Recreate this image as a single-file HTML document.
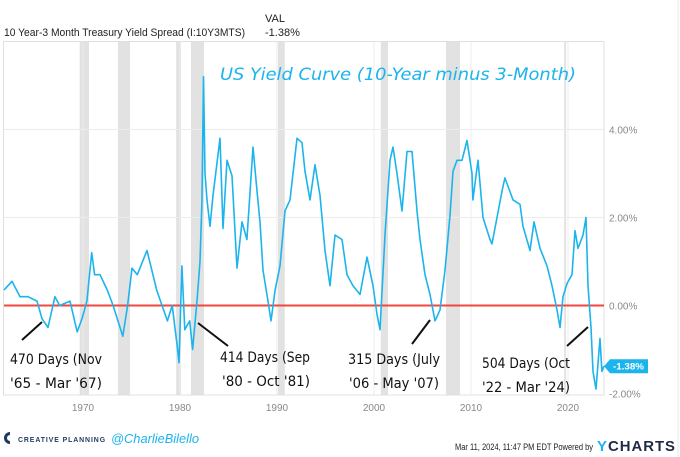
<!DOCTYPE html>
<html><head><meta charset="utf-8">
<style>
html,body{margin:0;padding:0;background:#fff;}
body{width:680px;height:457px;overflow:hidden;position:relative;font-family:"Liberation Sans",sans-serif;}
svg{position:absolute;left:0;top:0;}
</style></head>
<body>
<svg id="chart" width="680" height="457" viewBox="0 0 680 457">
  <line x1="678" y1="0" x2="678" y2="457" stroke="#e8e8e8" stroke-width="1"/>
  <text x="4" y="36" font-size="11" fill="#222" textLength="241" lengthAdjust="spacingAndGlyphs">10 Year-3 Month Treasury Yield Spread (I:10Y3MTS)</text>
  <text x="265" y="22" font-size="11" fill="#222">VAL</text>
  <text x="265" y="36" font-size="11" fill="#222">-1.38%</text>
  <g id="bands"></g>
  <g id="grid"></g>
  <rect x="3.5" y="41.5" width="600.5" height="353.5" fill="none" stroke="#e0e0e0" stroke-width="1"/>
  <line id="zeroline" x1="4" x2="604" stroke="#f0473e" stroke-width="2"/>
  <path id="series" fill="none" stroke="#1cb4ec" stroke-width="1.6" stroke-linejoin="round"/>
  <g id="yticks"></g>
  <g id="xticks"></g>
  <text x="220" y="80" font-size="17" fill="#1cb4ec" font-style="italic" font-family="'DejaVu Sans',sans-serif" textLength="356" lengthAdjust="spacingAndGlyphs">US Yield Curve (10-Year minus 3-Month)</text>
  <g stroke="#111" stroke-width="2">
    <line x1="22" y1="340" x2="42" y2="322"/>
    <line x1="198" y1="323" x2="228" y2="346"/>
    <line x1="412" y1="344" x2="430" y2="320"/>
    <line x1="567" y1="346" x2="588" y2="327"/>
  </g>
  <g font-size="14" fill="#111" font-family="'DejaVu Sans',sans-serif">
    <text x="10" y="364" textLength="92" lengthAdjust="spacingAndGlyphs">470 Days (Nov</text>
    <text x="10" y="388" textLength="92" lengthAdjust="spacingAndGlyphs">'65 - Mar '67)</text>
    <text x="220" y="362" textLength="90" lengthAdjust="spacingAndGlyphs">414 Days (Sep</text>
    <text x="222" y="386" textLength="88" lengthAdjust="spacingAndGlyphs">'80 - Oct '81)</text>
    <text x="348" y="364" textLength="92" lengthAdjust="spacingAndGlyphs">315 Days (July</text>
    <text x="349" y="388" textLength="90" lengthAdjust="spacingAndGlyphs">'06 - May '07)</text>
    <text x="482" y="368" textLength="88" lengthAdjust="spacingAndGlyphs">504 Days (Oct</text>
    <text x="482" y="392" textLength="88" lengthAdjust="spacingAndGlyphs">'22 - Mar '24)</text>
  </g>
  <g id="lastlabel">
    <polygon id="lastpoly" fill="#1cb4ec"/>
    <text id="lasttext" x="613" font-size="9.5" font-weight="bold" fill="#fff" textLength="31" lengthAdjust="spacingAndGlyphs">-1.38%</text>
  </g>
  <g>
    <path d="M10 432 a6 6 0 1 0 0 12 l0 -3 a3 3 0 1 1 0 -6 z" fill="#1f3a5f"/>
    <text x="18" y="442" font-size="7.5" font-weight="bold" fill="#1f3a5f" letter-spacing="1" textLength="88" lengthAdjust="spacingAndGlyphs">CREATIVE PLANNING</text>
    <text x="111" y="443" font-size="13" font-style="italic" fill="#1cb4ec" textLength="88" lengthAdjust="spacingAndGlyphs">@CharlieBilello</text>
    <text x="455" y="450" font-size="9" fill="#222" textLength="138" lengthAdjust="spacingAndGlyphs">Mar 11, 2024, 11:47 PM EDT Powered by</text>
    <text x="597" y="451" font-size="15" font-weight="bold" fill="#1f2a44" letter-spacing="1" textLength="79" lengthAdjust="spacingAndGlyphs"><tspan fill="#1cb4ec">Y</tspan>CHARTS</text>
  </g>
</svg>
<script>
const years = [1961.86,1962.68,1963.5,1964.33,1965.26,1965.77,1966.39,1967.1,1967.6,1968.66,1969.4,1969.9,1970.4,1970.9,1971.2,1971.75,1972.5,1973.1,1974.1,1974.6,1975.05,1975.6,1976.6,1977.6,1978.7,1979.2,1979.7,1979.9,1980.2,1980.5,1981.0,1981.3,1981.75,1982.06,1982.27,1982.42,1982.58,1982.78,1983.09,1983.4,1984.12,1984.43,1984.85,1985.36,1985.88,1986.39,1986.9,1987.53,1987.94,1988.25,1988.56,1989.07,1989.38,1989.8,1990.31,1990.82,1991.34,1992.06,1992.58,1992.89,1993.4,1993.92,1994.43,1994.95,1995.46,1995.98,1996.7,1997.22,1997.84,1998.56,1999.28,1999.9,2000.31,2000.62,2001.13,2001.65,2001.96,2002.37,2002.89,2003.4,2003.92,2004.43,2004.74,2005.26,2005.77,2006.29,2006.8,2007.32,2007.84,2008.14,2008.56,2009.07,2009.59,2010.1,2010.2,2010.72,2011.24,2011.96,2012.16,2013.2,2013.5,2014.33,2015.05,2015.36,2016.08,2016.49,2017.11,2017.84,2018.35,2018.87,2019.18,2019.48,2019.9,2020.41,2020.72,2021.03,2021.55,2021.86,2022.06,2022.37,2022.58,2022.89,2023.3,2023.5,2023.7];
const spread = [0.35,0.55,0.2,0.2,0.1,-0.3,-0.5,0.2,0.0,0.1,-0.6,-0.3,0.1,1.2,0.7,0.7,0.35,0.0,-0.7,0.0,0.85,0.7,1.25,0.35,-0.35,0.0,-0.9,-1.3,0.9,-0.55,-0.35,-1.0,0.1,1.0,2.4,5.2,3.0,2.4,1.8,2.5,3.8,1.75,3.3,2.95,0.85,1.9,1.5,3.6,2.6,1.9,0.8,0.1,-0.35,0.35,0.9,2.15,2.4,3.8,3.7,3.05,2.4,3.2,2.5,1.25,0.45,1.6,1.5,0.7,0.45,0.25,1.1,0.45,-0.2,-0.55,1.6,3.3,3.6,3.0,2.15,3.5,3.5,2.15,1.5,0.7,0.25,-0.35,-0.1,0.8,2.05,3.05,3.3,3.3,3.75,3.0,2.4,3.3,2.0,1.5,1.4,2.6,2.9,2.4,2.3,1.8,1.25,1.9,1.3,0.9,0.45,-0.1,-0.5,0.2,0.5,0.7,1.7,1.3,1.6,2.0,0.45,-0.5,-1.5,-1.9,-0.75,-1.5,-1.38];
const recessionStart = [1969.66,1973.6,1979.6,1981.13,1990.1,2000.7,2007.42,2019.6];
const recessionEnd = [1970.62,1974.85,1980.1,1982.47,1990.8,2001.44,2008.87,2019.8];
const yTickValues = [4,2,0,-2];
const yTickLabels = ["4.00%","2.00%","0.00%","-2.00%"];
const xTickYears = [1970,1980,1990,2000,2010,2020];
const lastValue = -1.38;

const NS = "http://www.w3.org/2000/svg";
function xScale(t){ return 83 + (t - 1970) * 9.7; }
function yScale(v){ return 305.5 - v * 44; }
function mk(tag, attrs, parent){
  const e = document.createElementNS(NS, tag);
  for (const k in attrs) e.setAttribute(k, attrs[k]);
  parent.appendChild(e);
  return e;
}
const bands = document.getElementById('bands');
for (let i = 0; i < recessionStart.length; i++){
  const r = mk('rect', {x: xScale(recessionStart[i]), y: 42, width: xScale(recessionEnd[i]) - xScale(recessionStart[i]), height: 353, fill: '#e2e2e2'}, bands);
  
  
}
const grid = document.getElementById('grid');
xTickYears.forEach(function(y){
  const l = mk('line', {x1: xScale(y), x2: xScale(y), y1: 42, y2: 395, stroke: '#ececec', 'stroke-width': 1}, grid);
  
  
});
yTickValues.forEach(function(v){
  if (v === 0 || v === -2) return;
  const l = mk('line', {x1: 4, x2: 604, y1: yScale(v), y2: yScale(v), stroke: '#ececec', 'stroke-width': 1}, grid);
  
  
});
const zl = document.getElementById('zeroline');
zl.setAttribute('y1', yScale(0)); zl.setAttribute('y2', yScale(0));
let d = '';
for (let i = 0; i < years.length; i++){
  d += (i ? 'L' : 'M') + xScale(years[i]).toFixed(1) + ' ' + yScale(spread[i]).toFixed(1);
}
document.getElementById('series').setAttribute('d', d);
const yt = document.getElementById('yticks');
yTickValues.forEach(function(v, i){
  const t = mk('text', {x: 609, y: yScale(v) + 4, 'font-size': 10, fill: '#888'}, yt);
  t.textContent = yTickLabels[i];
  
  
});
const xt = document.getElementById('xticks');
xTickYears.forEach(function(y){
  const t = mk('text', {x: xScale(y), y: 411, 'font-size': 10, fill: '#888', 'text-anchor': 'middle'}, xt);
  t.textContent = String(y);
  
  
});
const ly = yScale(lastValue);
document.getElementById('lastpoly').setAttribute('points', (604)+','+ly+' '+(610)+','+(ly-7)+' '+(648)+','+(ly-7)+' '+(648)+','+(ly+7)+' '+(610)+','+(ly+7));
document.getElementById('lasttext').setAttribute('y', ly + 3.5);
</script>
</body></html>
